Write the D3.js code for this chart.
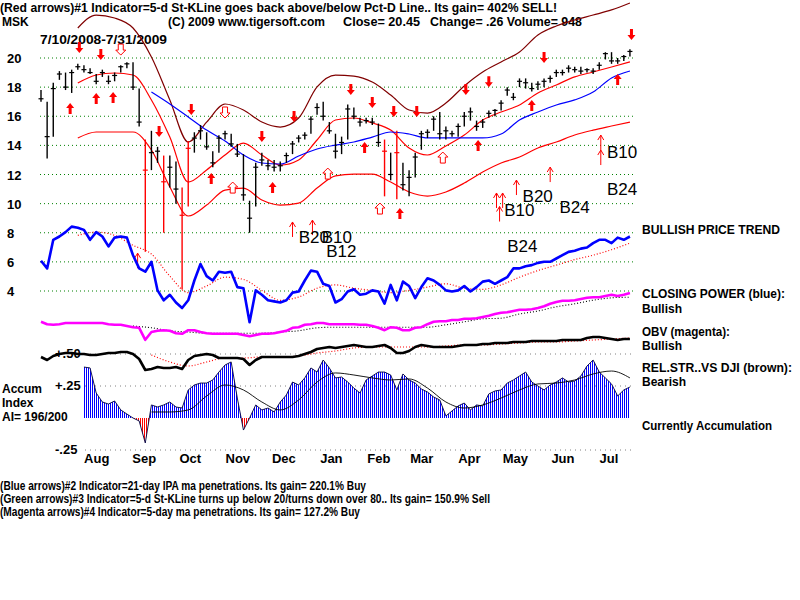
<!DOCTYPE html>
<html>
<head>
<meta charset="utf-8">
<script src="https://cdn.jsdelivr.net/npm/d3@7"></script>
<style>
body { margin: 0; background: #fff; }
svg { display: block; font-family: 'Liberation Sans', Arial, sans-serif; }
</style>
</head>
<body>
<div id="chart"></div>
<script>
const parseDate = d3.timeParse('%Y-%m-%d')
const startDate = new Date(2008, 6, 10)
const endDate = new Date(2009, 6, 31)

// one bar every 4 calendar days, bands / averages every 3rd bar
const barDates = d3.timeDay.range(startDate, endDate, 4)
const bandDates = barDates.filter((d, i) => i % 3 === 0)

const priceTicks = [20, 18, 16, 14, 12, 10, 8, 6, 4]
const monthTicks = ['2008-08-15', '2008-09-15', '2008-10-15', '2008-11-15', '2008-12-15', '2009-01-15',
	'2009-02-15', '2009-03-15', '2009-04-15', '2009-05-15', '2009-06-15', '2009-07-15']
const accTicks = [0.5, 0.25, -0.25]
const accTickLabels = ['+.50', '+.25', '-.25']

const highs = [17.8, 17.0, 18.3, 19.1, 19.0, 19.2, 19.6, 19.5, 19.3, 18.9,
	19.2, 18.8, 19.0, 19.5, 19.7, 19.7, 17.9, 14.4, 15.0, 13.9,
	13.3, 13.3, 12.9, 11.1, 14.3, 14.9, 15.4, 14.9, 13.6, 14.7,
	15.0, 14.8, 14.1, 13.4, 10.2, 12.8, 13.5, 13.0, 13.0, 12.9,
	13.5, 14.3, 14.7, 14.9, 16.0, 16.9, 17.0, 15.6, 14.8, 14.6,
	16.8, 16.6, 15.9, 15.9, 15.9, 15.5, 14.4, 13.5, 15.0, 12.8,
	12.3, 13.5, 15.0, 15.1, 16.0, 16.3, 15.3, 15.0, 15.5, 16.3,
	16.6, 15.7, 15.8, 16.4, 16.5, 17.1, 18.0, 17.6, 18.6, 18.6,
	18.3, 18.4, 18.6, 18.8, 19.2, 19.2, 19.5, 19.4, 19.4, 19.3,
	19.3, 19.7, 20.4, 20.4, 20.0, 20.2, 20.6]
const lows = [17.0, 13.1, 14.6, 18.5, 17.8, 17.6, 19.2, 19.0, 18.9, 18.2,
	18.7, 18.2, 18.4, 19.0, 19.3, 17.8, 15.3, 6.7, 12.3, 12.8,
	8.0, 11.1, 10.0, 4.1, 9.8, 13.5, 14.4, 13.7, 12.5, 13.5,
	14.4, 13.9, 13.2, 10.2, 8.0, 9.8, 12.6, 12.3, 12.2, 12.2,
	12.8, 13.4, 14.2, 14.4, 14.8, 16.1, 15.7, 14.8, 13.1, 13.4,
	14.4, 15.8, 15.3, 15.5, 15.4, 13.9, 10.5, 11.6, 10.3, 10.9,
	10.5, 11.8, 13.7, 14.5, 15.0, 14.4, 14.4, 14.6, 14.6, 15.3,
	15.7, 15.0, 15.2, 15.9, 16.0, 16.4, 17.4, 17.1, 18.0, 17.9,
	17.7, 17.8, 18.0, 18.3, 18.7, 18.8, 19.0, 19.0, 18.9, 19.0,
	18.9, 19.2, 19.9, 19.6, 19.6, 19.8, 20.1]
const closes = [17.2, 14.6, 17.9, 18.9, 18.0, 19.0, 19.4, 19.2, 19.0, 18.4,
	19.0, 18.4, 18.8, 19.4, 19.6, 18.0, 15.6, 12.3, 13.5, 13.6,
	11.5, 12.5, 11.0, 9.2, 13.8, 14.5, 15.0, 13.9, 12.8, 14.5,
	14.8, 14.1, 13.4, 10.6, 9.0, 12.5, 13.0, 12.6, 12.5, 12.6,
	13.3, 14.1, 14.5, 14.7, 15.8, 16.6, 16.0, 15.0, 13.6, 14.2,
	16.5, 16.0, 15.6, 15.7, 15.6, 14.2, 13.6, 12.0, 13.5, 11.3,
	11.8, 13.2, 14.8, 14.9, 15.8, 14.8, 15.0, 14.8, 15.3, 16.0,
	16.3, 15.3, 15.6, 16.2, 16.4, 16.9, 17.8, 17.3, 18.4, 18.3,
	17.9, 18.2, 18.4, 18.6, 19.0, 19.0, 19.3, 19.2, 19.1, 19.2,
	19.1, 19.5, 20.3, 19.8, 19.8, 20.1, 20.45]
const redBars = [17, 20, 23, 24, 56, 58]

const outerBand = [null, null, 22.06, 22.95, 22.75, 22.06, 20.07, 17.12, 14.23, 15.60, 16.84,
	16.43, 15.60, 15.26, 15.88, 18.01, 18.83, 18.76, 18.35, 17.46, 16.43,
	16.22, 16.91, 18.08, 19.04, 19.73, 20.41, 21.58, 22.20, 22.61, 22.95, 23.30, 23.78]
const upperBand = [null, null, 18.28, 18.83, 18.97, 18.83, 17.12, 14.57, 11.48, 12.31, 13.34,
	14.16, 13.34, 12.65, 13.0, 14.37, 15.74, 15.88, 15.54, 15.05, 13.82,
	13.34, 13.96, 14.71, 15.74, 16.29, 16.77, 17.60, 18.15, 18.70, 19.04, 19.38, 19.73]
const lowerBand = [null, null, 14.51, 14.92, 14.92, 14.92, 13.68, 11.14, 9.15, 9.90, 10.93,
	11.07, 10.25, 9.90, 10.04, 11.07, 11.90, 12.03, 12.03, 11.48, 10.80,
	10.52, 10.80, 11.41, 12.17, 12.79, 13.20, 13.82, 14.23, 14.71, 15.05, 15.33, 15.60]
const priceMA = [null, null, null, null, null, null, 17.66, 16.84, 15.95, 15.05, 14.30,
	13.34, 12.79, 12.72, 13.27, 13.75, 14.02, 14.23, 14.57, 14.92, 14.78,
	14.51, 14.51, 14.51, 14.51, 14.78, 15.74, 16.29, 16.77, 17.12, 17.66, 18.63, 19.11]

const closingPower = [63, 56, 82, 85, 89, 94, 93, 91, 82, 89,
	85, 76, 84, 85, 84, 68, 56, 53, 62, 36,
	27, 32, 25, 20, 27, 45, 60, 49, 45, 53,
	52, 53, 39, 38, 7, 36, 32, 27, 26, 25,
	27, 34, 35, 45, 54, 53, 42, 40, 25, 28,
	35, 37, 32, 33, 36, 35, 24, 41, 27, 44,
	40, 29, 39, 47, 45, 41, 36, 35, 36, 40,
	35, 39, 44, 45, 42, 45, 48, 56, 56, 58,
	59, 61, 62, 62, 65, 68, 71, 72, 74, 75,
	79, 82, 82, 79, 84, 82, 85]
const closingPowerMA = [null, null, 86, 89, 86, 77, 69, 49, 34, 40, 48,
	46, 36, 27, 30, 38, 41, 38, 36, 34, 36,
	39, 42, 38, 37, 41, 48, 54, 59, 64, 68, 73, 79]

const obv = [47, 43, 42, 43, 45, 45, 45, 45, 45, 45,
	45, 43, 42, 42, 40, 38, 37, 17, 30, 32,
	33, 32, 28, 27, 33, 33, 30, 28, 27, 27,
	27, 27, 27, 25, 23, 25, 27, 27, 28, 30,
	32, 37, 38, 42, 43, 45, 45, 43, 43, 43,
	43, 43, 42, 42, 40, 37, 33, 38, 37, 33,
	33, 37, 38, 43, 47, 48, 48, 50, 50, 52,
	52, 53, 55, 57, 60, 62, 63, 65, 67, 67,
	68, 70, 73, 77, 80, 82, 82, 83, 85, 87,
	88, 88, 90, 92, 90, 92, 95]
const obvMA = [null, null, null, null, null, 40, 37, 32, 30, 28, 28,
	28, 28, 30, 32, 37, 38, 38, 38, 38, 38,
	38, 42, 47, 52, 53, 60, 65, 72, 77, 83, 87, 88]

const relStrength = [46, 40, 48, 52, 54, 54, 52, 52, 50, 50,
	52, 54, 54, 56, 56, 52, 42, 20, 22, 26,
	24, 24, 26, 22, 40, 48, 50, 52, 50, 44,
	44, 44, 44, 42, 30, 40, 46, 46, 46, 46,
	46, 46, 48, 52, 56, 62, 64, 66, 64, 66,
	68, 70, 68, 66, 66, 68, 70, 64, 54, 54,
	58, 66, 70, 68, 66, 66, 66, 66, 68, 70,
	70, 70, 72, 72, 74, 74, 74, 76, 76, 76,
	78, 78, 78, 78, 78, 80, 80, 80, 80, 84,
	86, 86, 84, 82, 80, 82, 82]
const relStrengthMA = [null, null, null, null, null, null, 50, 36, 28, 36, 44,
	44, 46, 46, 48, 54, 58, 64, 66, 66, 66,
	66, 68, 70, 70, 72, 74, 76, 76, 78, 80, 82, 84]

const accumIndex = [null, null, null, null, null, null, null, 0.398, 0.391, 0.195,
	0.125, 0.109, 0.133, 0.063, 0.031, 0.0, -0.023, -0.195, 0.102, 0.086,
	0.102, 0.125, 0.086, 0.078, 0.219, 0.258, 0.273, 0.273, 0.297, 0.359,
	0.414, 0.438, 0.156, -0.094, 0.0, 0.102, 0.063, 0.078, 0.047, 0.125,
	0.18, 0.281, 0.258, 0.313, 0.391, 0.359, 0.453, 0.391, 0.313, 0.32,
	0.281, 0.234, 0.195, 0.297, 0.328, 0.359, 0.359, 0.336, 0.219, 0.344,
	0.297, 0.273, 0.227, 0.203, 0.164, 0.141, 0.016, 0.055, 0.094, 0.117,
	0.063, 0.102, 0.094, 0.188, 0.211, 0.219, 0.273, 0.297, 0.328, 0.359,
	0.281, 0.25, 0.219, 0.258, 0.281, 0.313, 0.281, 0.289, 0.328, 0.406,
	0.453, 0.359, 0.313, 0.266, 0.172, 0.219, 0.242]
const accumMA = [null, null, null, null, null, null, 0.047, 0.047, 0.063, 0.172, 0.258,
	0.219, 0.125, 0.063, 0.141, 0.281, 0.352, 0.336, 0.313, 0.297, 0.305,
	0.234, 0.125, 0.078, 0.102, 0.156, 0.219, 0.266, 0.273, 0.297, 0.344, 0.367, 0.313]

// signals: [date, price at arrow tip]
const sellArrows = [['2008-08-04', 20.34], ['2008-08-18', 19.86], ['2008-09-25', 14.57], ['2008-10-16', 16.09],
	['2008-12-01', 14.23], ['2008-12-22', 15.6], ['2009-01-28', 17.46], ['2009-02-11', 16.57],
	['2009-02-25', 15.95], ['2009-03-12', 15.95], ['2009-04-13', 17.46], ['2009-04-28', 18.0],
	['2009-06-03', 19.66], ['2009-07-30', 21.24]]
const sellArrowsOpen = [['2008-08-31', 20.2], ['2008-11-07', 15.88]]
const buyArrows = [['2008-07-29', 16.91], ['2008-08-15', 17.6], ['2008-08-26', 17.66], ['2008-10-29', 12.1],
	['2008-12-08', 11.48], ['2009-02-06', 14.23], ['2009-03-01', 9.7], ['2009-04-21', 14.37],
	['2009-05-26', 17.12], ['2009-07-21', 18.9]]
const buyArrowsOpen = [['2008-11-12', 11.48], ['2009-01-13', 12.44], ['2009-02-16', 10.04], ['2009-03-29', 13.54]]
const thinBuyArrows = [['2008-09-11', 6.6], ['2008-12-21', 8.74], ['2009-01-03', 8.87], ['2009-05-03', 10.73],
	['2009-05-07', 10.73], ['2009-05-05', 9.8], ['2009-05-16', 11.62], ['2009-06-07', 12.51],
	['2009-07-10', 14.71], ['2009-07-10', 13.68]]
const signalLabels = [['B20', '2008-12-25', 7.29], ['B10', '2009-01-09', 7.29], ['B12', '2009-01-12', 6.33],
	['B10', '2009-05-08', 9.15], ['B20', '2009-05-20', 10.11], ['B24', '2009-06-13', 9.35],
	['B10', '2009-07-14', 13.13], ['B24', '2009-07-14', 10.59], ['B24', '2009-05-10', 6.68]]

const headerLine1 = '(Red arrows)#1 Indicator=5-d St-KLine goes back above/below Pct-D Line.. Its gain= 402% SELL!'
const footerLines = [
	'(Blue arrows)#2 Indicator=21-day IPA ma penetrations. Its gain= 220.1% Buy',
	'(Green arrows)#3 Indicator=5-d St-KLine turns up below 20/turns down over 80.. Its gain= 150.9% Sell',
	'(Magenta arrows)#4 Indicator=5-day ma penetrations. Its gain= 127.2% Buy'
]

const draw = () => {
	const svg = d3.select('#chart')
		.append('svg')
		.attr('width', 800)
		.attr('height', 600)

	const defs = svg.append('defs')
	const stripes = (id, color) => {
		defs.append('pattern')
			.attr('id', id)
			.attr('width', 2)
			.attr('height', 10)
			.attr('patternUnits', 'userSpaceOnUse')
			.append('rect')
			.attr('width', 1)
			.attr('height', 10)
			.attr('fill', color)
	}
	stripes('stripeBlue', '#0000ff')
	stripes('stripeRed', '#ff0000')

	const x = d3.scaleTime().domain([startDate, endDate]).range([41, 633])
	const yPrice = d3.scaleLinear().domain([4, 20]).range([291, 58])
	const yCP = d3.scaleLinear().domain([0, 100]).range([330, 220])
	const yOBV = d3.scaleLinear().domain([0, 100]).range([350, 290])
	const yRS = d3.scaleLinear().domain([0, 100]).range([380, 330])
	const yAcc = d3.scaleLinear().domain([-0.25, 0.5]).range([450, 354])

	defs.append('clipPath').attr('id', 'accPos')
		.append('rect').attr('x', 0).attr('y', 0).attr('width', 800).attr('height', yAcc(0))
	defs.append('clipPath').attr('id', 'accNeg')
		.append('rect').attr('x', 0).attr('y', yAcc(0)).attr('width', 800).attr('height', 200)

	/* Header */
	const bold = (sel) => sel.attr('font-weight', 'bold').attr('fill', '#000')
	svg.append('text').call(bold).attr('x', 0).attr('y', 12).attr('font-size', 12)
		.attr('textLength', 557).attr('lengthAdjust', 'spacingAndGlyphs').text(headerLine1)
	svg.append('text').call(bold).attr('x', 2).attr('y', 26).attr('font-size', 12).text('MSK')
	svg.append('text').call(bold).attr('x', 168).attr('y', 26).attr('font-size', 12)
		.attr('textLength', 157).attr('lengthAdjust', 'spacingAndGlyphs').text('(C) 2009 www.tigersoft.com')
	svg.append('text').call(bold).attr('x', 343).attr('y', 26).attr('font-size', 12)
		.attr('textLength', 77).attr('lengthAdjust', 'spacingAndGlyphs').text('Close=  20.45')
	svg.append('text').call(bold).attr('x', 430).attr('y', 26).attr('font-size', 12)
		.attr('textLength', 152).attr('lengthAdjust', 'spacingAndGlyphs').text('Change= .26 Volume= 948')
	svg.append('text').call(bold).attr('x', 40).attr('y', 44).attr('font-size', 13)
		.attr('textLength', 127).attr('lengthAdjust', 'spacingAndGlyphs').text('7/10/2008-7/31/2009')

	/* Price grid */
	svg.append('g').selectAll('line').data(priceTicks).join('line')
		.attr('x1', 40).attr('x2', 635)
		.attr('y1', d => yPrice(d)).attr('y2', d => yPrice(d))
		.attr('stroke', '#008000').attr('stroke-dasharray', '1,3')
	svg.append('g').selectAll('text').data(priceTicks).join('text')
		.call(bold).attr('font-size', 13)
		.attr('x', 7).attr('y', d => yPrice(d) + 5).text(d => d)

	/* Accum grid */
	svg.append('g').selectAll('line').data(accTicks).join('line')
		.attr('x1', 85).attr('x2', 635)
		.attr('y1', d => yAcc(d)).attr('y2', d => yAcc(d))
		.attr('stroke', '#808080').attr('stroke-dasharray', '1,4')
	svg.append('g').selectAll('text').data(accTicks).join('text')
		.call(bold).attr('font-size', 13)
		.attr('x', 55).attr('y', d => yAcc(d) + 4).text((d, i) => accTickLabels[i])

	/* Bands */
	const bandLine = (scale) => d3.line()
		.defined(d => d[1] != null)
		.x(d => x(d[0]))
		.y(d => scale(d[1]))
		.curve(d3.curveMonotoneX)
	const zipBand = (values) => bandDates.map((d, i) => [d, values[i]])
	const zipBar = (values) => barDates.map((d, i) => [d, values[i]])

	const bands = [
		[outerBand, '#800000'],
		[upperBand, '#ff0000'],
		[lowerBand, '#ff0000'],
		[priceMA, '#0000ff']
	]
	bands.forEach(([values, color]) => {
		svg.append('path')
			.datum(zipBand(values))
			.attr('d', bandLine(yPrice))
			.attr('fill', 'none')
			.attr('stroke', color)
			.attr('stroke-width', 1.2)
	})

	/* Price bars */
	const bars = svg.append('g').selectAll('g').data(barDates).join('g')
	const barColor = (d, i) => redBars.includes(i) ? '#ff0000' : '#000'
	bars.append('line')
		.attr('x1', d => x(d)).attr('x2', d => x(d))
		.attr('y1', (d, i) => yPrice(highs[i]))
		.attr('y2', (d, i) => yPrice(lows[i]))
		.attr('stroke', barColor).attr('stroke-width', 1.4)
	bars.append('line')
		.attr('x1', d => x(d) - 2.5).attr('x2', d => x(d) + 2.5)
		.attr('y1', (d, i) => yPrice(closes[i]))
		.attr('y2', (d, i) => yPrice(closes[i]))
		.attr('stroke', barColor).attr('stroke-width', 1.2)

	/* Arrows */
	const downPath = 'M-1.5,-11L1.5,-11L1.5,-5L4,-5L0,0L-4,-5L-1.5,-5Z'
	const upPath = 'M-1.5,11L1.5,11L1.5,5L4,5L0,0L-4,5L-1.5,5Z'
	const downOpen = 'M-2.5,-11L2.5,-11L2.5,-5L5,-5L0,0L-5,-5L-2.5,-5Z'
	const upOpen = 'M-2.5,11L2.5,11L2.5,5L5,5L0,0L-5,5L-2.5,5Z'
	const thinUp = 'M0,0L0,15M-3,5L0,0L3,5'
	const place = d => `translate(${x(parseDate(d[0]))},${yPrice(d[1])})`

	const arrowSets = [
		[sellArrows, downPath, '#ff0000', 'none'],
		[buyArrows, upPath, '#ff0000', 'none'],
		[sellArrowsOpen, downOpen, '#fff', '#ff0000'],
		[buyArrowsOpen, upOpen, '#fff', '#ff0000'],
		[thinBuyArrows, thinUp, 'none', '#ff0000']
	]
	arrowSets.forEach(([data, shape, fill, stroke]) => {
		svg.append('g').selectAll('path').data(data).join('path')
			.attr('transform', place)
			.attr('d', shape)
			.attr('fill', fill)
			.attr('stroke', stroke)
			.attr('stroke-width', 1)
	})

	/* Signal labels */
	svg.append('g').selectAll('text').data(signalLabels).join('text')
		.attr('x', d => x(parseDate(d[1])))
		.attr('y', d => yPrice(d[2]))
		.attr('font-size', 17)
		.attr('fill', '#000')
		.text(d => d[0])

	/* Closing power */
	const panelLine = (scale) => d3.line()
		.defined(d => d[1] != null)
		.x(d => x(d[0]))
		.y(d => scale(d[1]))

	svg.append('path').datum(zipBand(closingPowerMA))
		.attr('d', panelLine(yCP).curve(d3.curveMonotoneX))
		.attr('fill', 'none').attr('stroke', '#ff0000').attr('stroke-width', 1.2)
		.attr('stroke-dasharray', '1,2')
	svg.append('path').datum(zipBar(closingPower))
		.attr('d', panelLine(yCP))
		.attr('fill', 'none').attr('stroke', '#0000ff').attr('stroke-width', 2.6)
		.attr('stroke-linejoin', 'round')

	/* OBV */
	svg.append('path').datum(zipBand(obvMA))
		.attr('d', panelLine(yOBV).curve(d3.curveMonotoneX))
		.attr('fill', 'none').attr('stroke', '#000').attr('stroke-width', 1.1)
		.attr('stroke-dasharray', '1,2')
	svg.append('path').datum(zipBar(obv))
		.attr('d', panelLine(yOBV))
		.attr('fill', 'none').attr('stroke', '#ff00ff').attr('stroke-width', 2.6)
		.attr('stroke-linejoin', 'round')

	/* Relative strength */
	svg.append('path').datum(zipBand(relStrengthMA))
		.attr('d', panelLine(yRS).curve(d3.curveMonotoneX))
		.attr('fill', 'none').attr('stroke', '#ff0000').attr('stroke-width', 1.2)
		.attr('stroke-dasharray', '1,2')
	svg.append('path').datum(zipBar(relStrength))
		.attr('d', panelLine(yRS))
		.attr('fill', 'none').attr('stroke', '#000').attr('stroke-width', 2.6)
		.attr('stroke-linejoin', 'round')

	/* Accumulation index */
	const accArea = d3.area()
		.defined(d => d[1] != null)
		.x(d => x(d[0]))
		.y0(yAcc(0))
		.y1(d => yAcc(d[1]))
	const accData = zipBar(accumIndex)
	svg.append('path').datum(accData)
		.attr('d', accArea).attr('fill', 'url(#stripeBlue)').attr('clip-path', 'url(#accPos)')
	svg.append('path').datum(accData)
		.attr('d', accArea).attr('fill', 'url(#stripeRed)').attr('clip-path', 'url(#accNeg)')
	svg.append('path').datum(accData)
		.attr('d', panelLine(yAcc))
		.attr('fill', 'none').attr('stroke', '#000040').attr('stroke-width', 0.9)
	svg.append('path').datum(zipBand(accumMA))
		.attr('d', panelLine(yAcc).curve(d3.curveMonotoneX))
		.attr('fill', 'none').attr('stroke', '#000').attr('stroke-width', 0.9)

	/* Month axis */
	const axis = svg.append('g')
		.attr('transform', 'translate(0,451)')
		.call(d3.axisBottom(x)
			.tickValues(monthTicks.map(parseDate))
			.tickFormat(d3.timeFormat('%b'))
			.tickSize(0)
			.tickPadding(3))
	axis.select('.domain').remove()
	axis.selectAll('text')
		.attr('font-family', "'Liberation Sans', Arial, sans-serif")
		.attr('font-size', 13).attr('font-weight', 'bold').attr('fill', '#000')

	/* Side labels */
	const leftLabels = [['Accum', 393], ['Index', 407], ['AI= 196/200', 421]]
	svg.append('g').selectAll('text').data(leftLabels).join('text')
		.call(bold).attr('font-size', 12)
		.attr('x', 2).attr('y', d => d[1]).text(d => d[0])

	const rightLabels = [
		['BULLISH PRICE TREND', 234, 138], ['CLOSING POWER (blue):', 298, 143], ['Bullish', 313, 0],
		['OBV (magenta):', 336, 88], ['Bullish', 350, 0],
		['REL.STR..VS DJI (brown):', 372, 150], ['Bearish', 386, 0],
		['Currently Accumulation', 430, 130]
	]
	rightLabels.forEach(([label, y, width]) => {
		const t = svg.append('text').call(bold).attr('font-size', 12)
			.attr('x', 642).attr('y', y).text(label)
		if (width) t.attr('textLength', width).attr('lengthAdjust', 'spacingAndGlyphs')
	})

	/* Footer */
	const footerWidths = [366, 490, 360]
	svg.append('g').selectAll('text').data(footerLines).join('text')
		.attr('x', 0).attr('y', (d, i) => 490 + i * 13)
		.attr('font-family', "'Liberation Sans Narrow', 'Liberation Sans', Arial, sans-serif")
		.attr('font-size', 12.5).attr('font-weight', 'bold').attr('fill', '#000')
		.attr('textLength', (d, i) => footerWidths[i]).attr('lengthAdjust', 'spacingAndGlyphs')
		.text(d => d)
}

draw()
</script>
</body>
</html>
